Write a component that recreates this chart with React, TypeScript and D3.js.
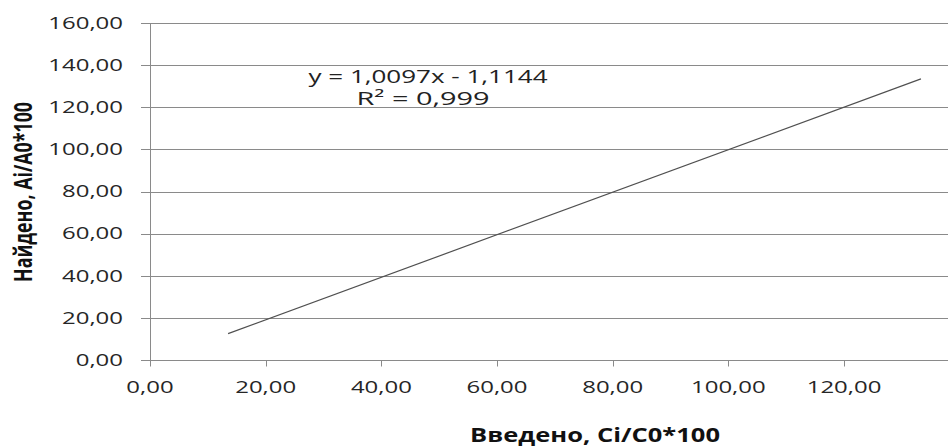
import React from "react";
import * as d3 from "d3";

const xValues = [13.5, 133.3];
const yValues = [12.5, 133.5];
const xTicks = [0, 20, 40, 60, 80, 100, 120];
const yTicks = [0, 20, 40, 60, 80, 100, 120, 140, 160];
const equation = "y = 1,0097x - 1,1144";
const rSquared = "R² = 0,999";
const xTitle = "Введено, Ci/C0*100";
const yTitle = "Найдено, Ai/A0*100";

const W = 948;
const H = 447;
const SX = 1.46;

const fmt = (v: number) => v.toFixed(2).replace(".", ",");

export default function App() {
  const x = d3.scaleLinear().domain([0, 140]).range([150, 959.7]);
  const y = d3.scaleLinear().domain([0, 160]).range([360, 23]);
  const pts = xValues.map((v, i) => [v, yValues[i]] as [number, number]);
  const line = d3
    .line<[number, number]>()
    .x((d) => x(d[0]))
    .y((d) => y(d[1]));
  const grid = "#8a8a8a";
  const font = "'Open Sans', sans-serif";
  return (
    <svg
      width={W}
      height={H}
      style={{ position: "absolute", left: 0, top: 0, background: "#fff" }}
    >
      {yTicks.map((t) => (
        <g key={"y" + t}>
          <line
            x1={141}
            x2={W}
            y1={Math.round(y(t)) + 0.5}
            y2={Math.round(y(t)) + 0.5}
            stroke={grid}
            strokeWidth={1}
          />
          <text
            transform={`translate(123, ${y(t) + 5.8}) scale(${SX},1)`}
            textAnchor="end"
            fontFamily={font}
            fontSize={16.4}
            fill="#262626"
          >
            {fmt(t)}
          </text>
        </g>
      ))}
      <line
        x1={x(0) + 0.5}
        x2={x(0) + 0.5}
        y1={y(160)}
        y2={y(0) + 6}
        stroke={grid}
        strokeWidth={1}
      />
      {xTicks.map((t) => (
        <g key={"x" + t}>
          <line
            x1={Math.round(x(t)) + 0.5}
            x2={Math.round(x(t)) + 0.5}
            y1={y(0)}
            y2={y(0) + 6.5}
            stroke={grid}
            strokeWidth={1}
          />
          <text
            transform={`translate(${x(t)}, 393) scale(${SX},1)`}
            textAnchor="middle"
            fontFamily={font}
            fontSize={16.4}
            fill="#262626"
          >
            {fmt(t)}
          </text>
        </g>
      ))}
      <path d={line(pts) || ""} fill="none" stroke="#505050" strokeWidth={1.2} />
      <text
        x={428}
        y={83}
        textAnchor="middle"
        fontFamily={font}
        fontSize={18}
        fill="#222"
        textLength={239}
        lengthAdjust="spacingAndGlyphs"
      >
        {equation}
      </text>
      <text
        x={423}
        y={105}
        textAnchor="middle"
        fontFamily={font}
        fontSize={18}
        fill="#222"
        textLength={133}
        lengthAdjust="spacingAndGlyphs"
      >
        {rSquared}
      </text>
      <text
        x={595}
        y={442}
        textAnchor="middle"
        fontFamily={font}
        fontWeight="bold"
        fontSize={19}
        fill="#111"
        textLength={250}
        lengthAdjust="spacingAndGlyphs"
      >
        {xTitle}
      </text>
      <text
        transform={`translate(31.5, 192) scale(${SX},1) rotate(-90)`}
        textAnchor="middle"
        fontFamily={font}
        fontWeight="bold"
        fontSize={17.5}
        fill="#111"
        textLength={180}
        lengthAdjust="spacingAndGlyphs"
      >
        {yTitle}
      </text>
    </svg>
  );
}
